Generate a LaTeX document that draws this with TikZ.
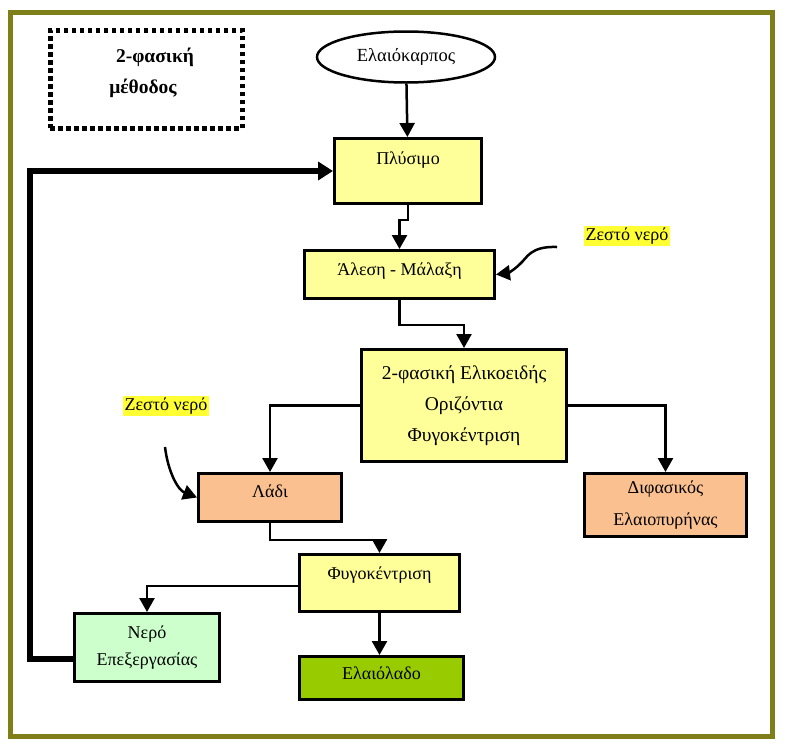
\documentclass[tikz,border=0pt]{standalone}
\usepackage{fontspec}
\setmainfont{Liberation Serif}
\usetikzlibrary{arrows.meta,shapes.geometric}
\definecolor{boxyellow}{HTML}{FFFF99}
\definecolor{peach}{HTML}{FAC090}
\definecolor{lightgreen}{HTML}{CCFFCC}
\definecolor{oilgreen}{HTML}{99CC00}
\definecolor{hilite}{HTML}{FFFF33}
\definecolor{olive}{HTML}{7F7F1A}
\tikzset{
  stepbox/.style={draw=black, line width=3pt, anchor=north west, inner sep=0pt, font=\fontsize{18}{20}\selectfont},
  multibox/.style={stepbox, align=center},
  conn/.style={draw=black, line width=2.5pt, -{Triangle[length=14pt,width=15pt]}},
  thickconn/.style={draw=black, line width=6pt, -{Triangle[length=15pt,width=18pt]}},
  hot/.style={fill=hilite, inner sep=1.5pt, font=\fontsize{18}{20}\selectfont},
  titletext/.style={font=\fontsize{19.5}{22}\selectfont\bfseries}
}
\begin{document}
\begin{tikzpicture}[x=1pt,y=-1pt]
\useasboundingbox (0,0) rectangle (789,747);
\fill[white] (0,0) rectangle (789,747);
% outer frame
\draw[olive, line width=5pt] (10,12) rectangle (772,736);
% dotted title box
\node[draw=black, line width=4.5pt, dash pattern=on 4.5pt off 3.5pt, anchor=north west, minimum width=192pt, minimum height=98pt, inner sep=0pt] (dbox) at (48,28) {};
\node[titletext] (t1) at (155,57) {2-φασική};
\node[titletext] (t2) at (143,88) {μέθοδος};
% nodes
\node[draw=black, line width=2.5pt, ellipse, minimum width=178pt, minimum height=51pt, inner sep=0pt, font=\fontsize{18.5}{20}\selectfont] (elaio) at (406,57) {Ελαιόκαρπος};
\node[stepbox, fill=boxyellow, minimum width=147pt, text height=26pt, text depth=39pt] (plys) at (333,137) {Πλύσιμο};
\node[stepbox, fill=boxyellow, minimum width=190pt, text height=25pt, text depth=23pt] (alesi) at (303,249) {Άλεση - Μάλαξη};
\node[multibox, fill=boxyellow, minimum width=205pt, minimum height=112pt, font=\fontsize{19.5}{31}\selectfont] (big) at (360,348) {2-φασική Ελικοειδής\\Οριζόντια\\Φυγοκέντριση};
\node[stepbox, fill=peach, minimum width=143pt, text height=24pt, text depth=24pt] (ladi) at (197,472) {Λάδι};
\node[multibox, fill=peach, minimum width=162pt, minimum height=63pt, font=\fontsize{18}{32}\selectfont] (difas) at (583,472) {Διφασικός\\Ελαιοπυρήνας};
\node[stepbox, fill=boxyellow, minimum width=160pt, text height=25pt, text depth=32pt] (fygo) at (298,553) {Φυγοκέντριση};
\node[multibox, fill=lightgreen, minimum width=145pt, minimum height=68pt, font=\fontsize{18}{27}\selectfont] (nero) at (73,612) {Νερό\\Επεξεργασίας};
\node[stepbox, fill=oilgreen, minimum width=164pt, text height=23pt, text depth=20pt] (elaiolado) at (298,655) {Ελαιόλαδο};
% hot water labels
\node[hot] (zn1) at (627,236) {Ζεστό νερό};
\node[hot] (zn2) at (166,406) {Ζεστό νερό};
\coordinate (c1) at (557,247);
\coordinate (c2) at (165,447);
\coordinate (fbx) at (30,0);
% connectors
\draw[conn] (elaio) -- (plys);
\draw[conn] (plys.south) -- ++(0,15) -| (alesi.north);
\draw[conn] (alesi.south) -- ++(0,25) -| (big.north);
\draw[conn] (big.west) -| (ladi.north);
\draw[conn] (big.east) -| (difas.north);
\draw[conn] (ladi.south) -- ++(0,17) -| (fygo.north);
\draw[conn] (fygo.south) -- (fygo.south |- elaiolado.north);
\draw[conn] ([yshift=-3pt]fygo.west) -| (nero.north);
\draw[thickconn] ([yshift=-11pt]nero.west) -| (fbx |- plys.west) -- (plys.west);
\draw[conn] (c1) .. controls (530,246) and (527,258) .. (520,264) .. controls (514,270) and (508,273) .. (alesi.east);
\draw[conn] (c2) .. controls (168,472) and (178,490) .. (ladi.west);
\end{tikzpicture}
\end{document}
